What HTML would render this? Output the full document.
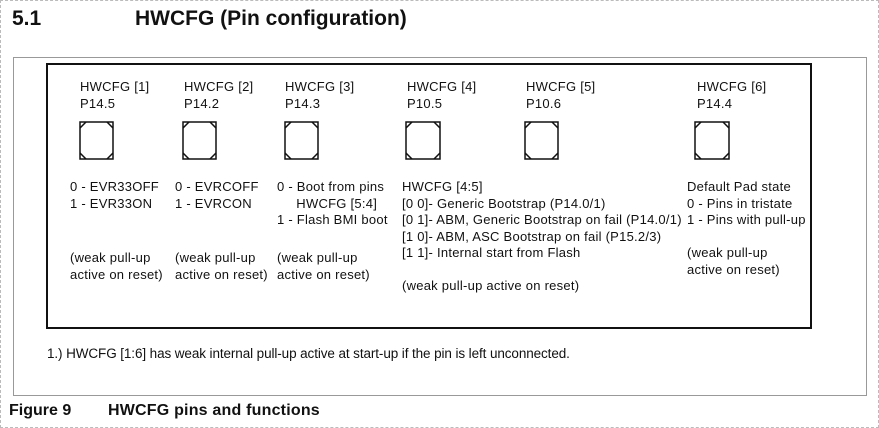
<!DOCTYPE html>
<html><head><meta charset="utf-8"><style>
body{margin:0;width:879px;height:428px;background:#fff;position:relative;overflow:hidden;font-family:"Liberation Sans",Arial,sans-serif}
.t{position:absolute;font-size:13px;letter-spacing:0.25px;color:#111;line-height:16.5px;white-space:pre}
.h{position:absolute;font-weight:bold;color:#111;white-space:pre}
</style></head><body>
<div style="position:absolute;left:0;top:0;width:877px;height:426px;border:1px dashed #bbb"></div>
<div class="h" style="left:12px;top:7px;font-size:21px">5.1</div>
<div class="h" style="left:135px;top:7px;font-size:21px">HWCFG (Pin configuration)</div>
<div style="position:absolute;left:13px;top:57px;width:852px;height:337px;border:1px solid #999"></div>
<div style="position:absolute;left:46px;top:63px;width:762px;height:262px;border:2px solid #111"></div>
<svg width="879" height="428" style="position:absolute;left:0;top:0">
<g fill="none" stroke="#111" stroke-width="1.5">
<g transform="translate(80,122)"><rect x="0" y="0" width="33" height="37"/><path d="M0 6L6 0M27 0L33 6M0 31L6 37M27 37L33 31"/></g>
<g transform="translate(183,122)"><rect x="0" y="0" width="33" height="37"/><path d="M0 6L6 0M27 0L33 6M0 31L6 37M27 37L33 31"/></g>
<g transform="translate(285,122)"><rect x="0" y="0" width="33" height="37"/><path d="M0 6L6 0M27 0L33 6M0 31L6 37M27 37L33 31"/></g>
<g transform="translate(406,122)"><rect x="0" y="0" width="34" height="37"/><path d="M0 6L6 0M28 0L34 6M0 31L6 37M28 37L34 31"/></g>
<g transform="translate(525,122)"><rect x="0" y="0" width="33" height="37"/><path d="M0 6L6 0M27 0L33 6M0 31L6 37M27 37L33 31"/></g>
<g transform="translate(695,122)"><rect x="0" y="0" width="34" height="37"/><path d="M0 6L6 0M28 0L34 6M0 31L6 37M28 37L34 31"/></g>
</g></svg>
<div class="t" style="left:80px;top:79px">HWCFG [1]
P14.5</div>
<div class="t" style="left:184px;top:79px">HWCFG [2]
P14.2</div>
<div class="t" style="left:285px;top:79px">HWCFG [3]
P14.3</div>
<div class="t" style="left:407px;top:79px">HWCFG [4]
P10.5</div>
<div class="t" style="left:526px;top:79px">HWCFG [5]
P10.6</div>
<div class="t" style="left:697px;top:79px">HWCFG [6]
P14.4</div>
<div class="t" style="left:70px;top:179px">0 - EVR33OFF
1 - EVR33ON</div>
<div class="t" style="left:175px;top:179px">0 - EVRCOFF
1 - EVRCON</div>
<div class="t" style="left:277px;top:179px">0 - Boot from pins
     HWCFG [5:4]
1 - Flash BMI boot</div>
<div class="t" style="left:402px;top:179px">HWCFG [4:5]
[0 0]- Generic Bootstrap (P14.0/1)
[0 1]- ABM, Generic Bootstrap on fail (P14.0/1)
[1 0]- ABM, ASC Bootstrap on fail (P15.2/3)
[1 1]- Internal start from Flash

(weak pull-up active on reset)</div>
<div class="t" style="left:687px;top:179px">Default Pad state
0 - Pins in tristate
1 - Pins with pull-up

(weak pull-up
active on reset)</div>
<div class="t" style="left:70px;top:250px">(weak pull-up
active on reset)</div>
<div class="t" style="left:175px;top:250px">(weak pull-up
active on reset)</div>
<div class="t" style="left:277px;top:250px">(weak pull-up
active on reset)</div>
<div class="t" style="left:47px;top:346px;font-size:13.5px;letter-spacing:-0.1px">1.) HWCFG [1:6] has weak internal pull-up active at start-up if the pin is left unconnected.</div>
<div class="h" style="left:9px;top:402px;font-size:16px">Figure 9</div>
<div class="h" style="left:108px;top:402px;font-size:16px;letter-spacing:0.2px">HWCFG pins and functions</div>
</body></html>
